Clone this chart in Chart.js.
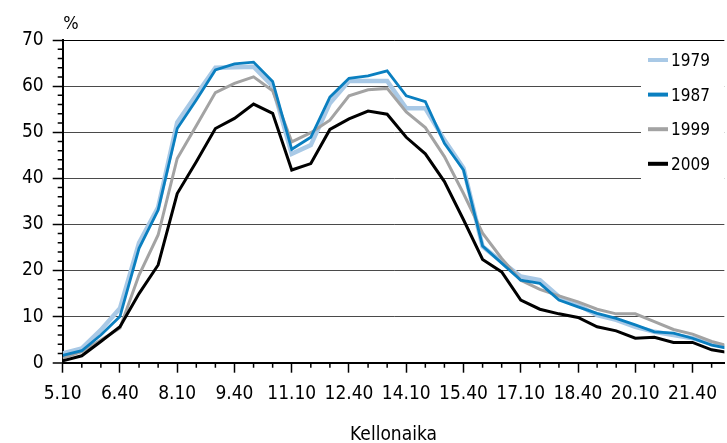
<!DOCTYPE html>
<html lang="fi">
<head>
<meta charset="UTF-8">
<title>Kellonaika</title>
<script src="https://cdn.jsdelivr.net/npm/chart.js"></script>
<style>
  html, body { margin: 0; padding: 0; background: #fff; }
  #wrap { width: 727px; height: 443px; }
</style>
</head>
<body>
<div id="wrap"><canvas id="chart" width="727" height="443"></canvas></div>
<script>
// kellonajat 30 min välein
const times = ['5.10','5.40','6.10','6.40','7.10','7.40','8.10','8.40','9.10','9.40','10.10','10.40',
  '11.10','11.40','12.10','12.40','13.10','13.40','14.10','14.40','15.10','15.40','16.10','16.40',
  '17.10','17.40','18.10','18.40','19.10','19.40','20.10','20.40','21.10','21.40','22.10','22.40'];
const years = ['1979', '1987', '1999', '2009'];
const v1979 = [2.0, 3.1, 7.1, 11.8, 26.0, 33.7, 52.1, 58.1, 64.0, 64.1, 64.2, 60.0,
  45.3, 47.2, 56.3, 61.1, 61.1, 61.1, 55.2, 55.2, 48.3, 42.2, 25.2, 21.9,
  18.7, 17.9, 14.3, 12.5, 10.3, 9.3, 7.8, 6.7, 6.0, 5.3, 4.2, 3.2];
const v1987 = [1.6, 2.6, 6.0, 10.0, 24.8, 33.1, 50.8, 57.0, 63.5, 64.8, 65.2, 61.0,
  46.3, 48.9, 57.6, 61.7, 62.2, 63.3, 57.9, 56.6, 47.6, 41.8, 25.3, 21.6,
  17.9, 17.2, 13.6, 12.1, 10.7, 9.6, 8.2, 6.7, 6.4, 5.3, 3.8, 3.0];
const v1999 = [1.0, 2.4, 4.9, 7.5, 19.0, 27.7, 44.3, 51.4, 58.6, 60.6, 62.0, 59.0,
  47.9, 49.9, 52.6, 57.9, 59.2, 59.5, 54.4, 51.0, 44.7, 36.7, 28.1, 22.6,
  17.9, 15.9, 14.5, 13.2, 11.6, 10.6, 10.6, 8.9, 7.2, 6.2, 4.6, 3.5];
const v2009 = [0.4, 1.5, 4.6, 7.8, 15.0, 21.2, 36.7, 43.6, 50.8, 53.0, 56.1, 54.1,
  41.8, 43.2, 50.6, 52.9, 54.6, 53.9, 48.9, 45.3, 39.3, 31.0, 22.4, 19.7,
  13.6, 11.6, 10.6, 9.8, 7.8, 6.9, 5.3, 5.5, 4.4, 4.4, 2.8, 2.1];
const xTickLabels = ['5.10','6.40','8.10','9.40','11.10','12.40','14.10','15.40','17.10','18.40','20.10','21.40'];
const yTicks = [0, 10, 20, 30, 40, 50, 60, 70];

const colors = ['#a9c9e6', '#0a7fc0', '#a3a3a3', '#000000'];
const widths = [4.5, 2.8, 3, 3];
const FONT = "'DejaVu Sans Condensed', 'DejaVu Sans', sans-serif";

const toMin = t => { const [h, m] = t.split('.'); return (+h) * 60 + (+m); };
const series = [v1979, v1987, v1999, v2009];

const minorTicks = {
  id: 'minorTicks',
  afterDraw(chart) {
    const {ctx, scales: {x, y}} = chart;
    ctx.save();
    ctx.strokeStyle = '#000';
    ctx.lineWidth = 1.5;
    ctx.beginPath();
    times.forEach(t => {
      if (xTickLabels.includes(t)) return;
      const px = x.getPixelForValue(toMin(t));
      if (px > x.right) return;
      ctx.moveTo(px, y.bottom); ctx.lineTo(px, y.bottom + 5);
    });
    for (let v = 2; v < 70; v += 2) {
      if (v % 10 === 0) continue;
      const py = y.getPixelForValue(v);
      ctx.moveTo(x.left - 5, py); ctx.lineTo(x.left, py);
    }
    ctx.stroke();
    // yksikkö
    ctx.fillStyle = '#000';
    ctx.font = '18px ' + FONT;
    ctx.textAlign = 'center';
    ctx.textBaseline = 'middle';
    ctx.fillText('%', 71, 24);
    ctx.restore();
  }
};

const legendBox = {
  id: 'legendBox',
  beforeDatasetsDraw(chart) {
    const {ctx, chartArea} = chart;
    ctx.save();
    ctx.fillStyle = '#fff';
    ctx.fillRect(641, chartArea.top + 2, chartArea.right - 641, 173);
    ctx.restore();
  },
  afterDraw(chart) {
    const {ctx} = chart;
    ctx.save();
    ctx.font = '17px ' + FONT;
    ctx.textBaseline = 'middle';
    ctx.textAlign = 'left';
    years.forEach((yr, i) => {
      const cy = 60 + i * 34.6;
      ctx.strokeStyle = colors[i];
      ctx.lineWidth = 4;
      ctx.beginPath();
      ctx.moveTo(648, cy); ctx.lineTo(668, cy);
      ctx.stroke();
      ctx.fillStyle = '#000';
      ctx.fillText(yr, 671, cy + 1.5);
    });
    ctx.restore();
  }
};

new Chart(document.getElementById('chart'), {
  type: 'line',
  data: {
    datasets: years.map((yr, i) => ({
      label: yr,
      data: times.map((t, k) => ({x: toMin(t), y: series[i][k]})),
      borderColor: colors[i],
      borderWidth: widths[i],
      pointRadius: 0,
      tension: 0,
      fill: false,
      order: [4, 2, 3, 1][i]
    }))
  },
  options: {
    responsive: false,
    devicePixelRatio: 1,
    animation: false,
    layout: { padding: { top: 40, left: 0, right: 0, bottom: 0 } },
    plugins: { legend: { display: false }, tooltip: { enabled: false } },
    scales: {
      x: {
        type: 'linear',
        min: 310,
        max: 1350,
        afterBuildTicks: s => { s.ticks = xTickLabels.map(t => ({value: toMin(t)})); },
        afterFit: s => { s.height = 80.3; },
        border: { color: '#000', width: 2 },
        grid: { drawOnChartArea: false, tickLength: 10, tickColor: '#000', tickWidth: 1.5 },
        ticks: {
          color: '#000', font: { family: FONT, size: 19 }, padding: 10,
          maxRotation: 0, autoSkip: false,
          callback: (v, i) => xTickLabels[i]
        },
        title: {
          display: true, text: 'Kellonaika', color: '#000',
          font: { family: FONT, size: 19, lineHeight: 0.8 }, padding: 0
        }
      },
      y: {
        min: 0,
        max: 70,
        afterBuildTicks: s => { s.ticks = yTicks.map(v => ({value: v})); },
        afterFit: s => { s.width = 62.7; },
        border: { color: '#000', width: 2 },
        grid: {
          color: c => c.tick && c.tick.value === 70 ? '#000' : '#4a4a4a',
          lineWidth: c => c.tick && c.tick.value === 0 ? 0 : 1,
          tickLength: 10, tickColor: '#000', tickWidth: 1.5
        },
        ticks: { color: '#000', font: { family: FONT, size: 19 }, padding: 9 }
      }
    }
  },
  plugins: [minorTicks, legendBox]
});
</script>
</body>
</html>
